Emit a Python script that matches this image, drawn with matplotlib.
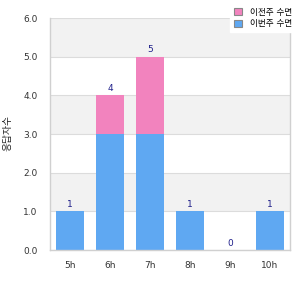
import matplotlib
matplotlib.use("Agg")
import matplotlib.pyplot as plt
from matplotlib.patches import Patch

plt.rcParams['font.family'] = ['DejaVu Sans', 'Noto Sans CJK KR']

categories = ["5h", "6h", "7h", "8h", "9h", "10h"]
series_blue = [1, 3, 3, 1, 0, 1]
series_pink = [0, 1, 2, 0, 0, 0]
totals = [1, 4, 5, 1, 0, 1]
y_ticks = [0, 1, 2, 3, 4, 5, 6]
legend_labels = ["이전주 수면", "이번주 수면"]
y_label = "응답자수"

blue = "#5fa8f2"
pink = "#f283be"

fig = plt.figure(figsize=(3, 3), dpi=100)
ax = fig.add_axes([50/300, 50/300, 240/300, 232/300])

# alternating bands
for i in range(6):
    if i % 2 == 1:
        ax.axhspan(i, i + 1, color="#f2f2f2", zorder=0, lw=0)
for t in y_ticks:
    ax.axhline(t, color="#dcdcdc", lw=0.8, zorder=1)

x = list(range(len(categories)))
ax.bar(x, series_blue, width=0.72, color=blue, zorder=2)
ax.bar(x, series_pink, width=0.72, bottom=series_blue, color=pink, zorder=2)
for xi, t in zip(x, totals):
    ax.text(xi, t + 0.06, str(t), ha="center", va="bottom", fontsize=6.5,
            color="#1f1f8a", zorder=3)

ax.set_xlim(-0.5, len(categories) - 0.5)
ax.set_ylim(0, 6)
ax.set_yticks(y_ticks)
ax.set_yticklabels([f"{t:.1f}" for t in y_ticks])
ax.set_xticks(x)
ax.set_xticklabels(categories)
ax.tick_params(length=0, labelsize=6.5, labelcolor="#333333", pad=8)
ax.tick_params(axis="y", pad=9)
for s in ["left", "bottom", "right"]:
    ax.spines[s].set_color("#d0d0d0")
    ax.spines[s].set_linewidth(1)
ax.spines["top"].set_visible(False)

fig.text(3/300, 1 - 133/300, y_label, rotation=90, ha="left", va="center",
         fontsize=7, color="#222222")

handles = [Patch(facecolor=pink, edgecolor="#888888", lw=0.8),
           Patch(facecolor=blue, edgecolor="#888888", lw=0.8)]
leg = fig.legend(handles, legend_labels, loc="upper right",
                 bbox_to_anchor=(1.0, 1.0), frameon=True, fontsize=6.2,
                 handlelength=0.9, handleheight=0.9, handletextpad=1.0,
                 borderpad=0.4, labelspacing=0.3, fancybox=False)
leg.get_frame().set_edgecolor("white")
leg.get_frame().set_facecolor("white")
leg.get_frame().set_alpha(1)

fig.savefig("out.png", dpi=100)
